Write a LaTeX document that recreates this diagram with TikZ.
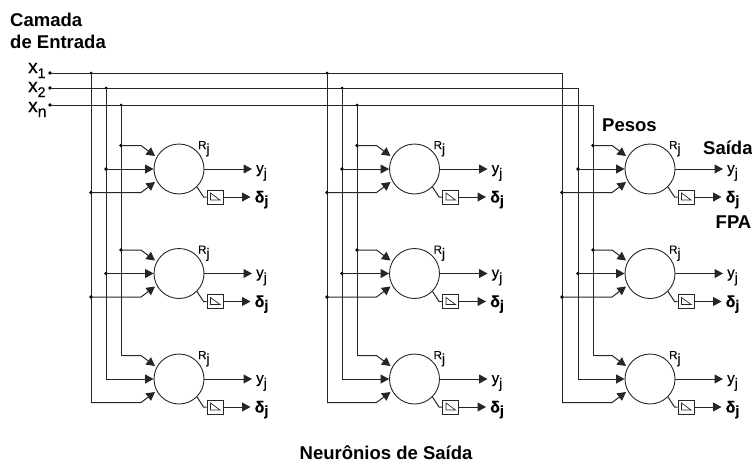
\documentclass[tikz,border=0pt]{standalone}
\usepackage{fontspec}
\setmainfont{Liberation Sans}
\newfontfamily\semib[FakeBold=0.35]{Liberation Sans}
\newfontfamily\heavy[FakeBold=0.5]{Liberation Sans Bold}
\usetikzlibrary{arrows.meta,calc}
\newcommand{\fsz}[1]{\fontsize{#1}{#1}\selectfont}
\newcommand{\sublab}[4]{{\fsz{#1}#2\raisebox{-#4pt}{\fsz{#3}j}}}
\tikzset{
  wire/.style={line width=1pt,draw=black!85},
  arr/.style={wire,-{Triangle[length=8.5pt,width=9pt]}},
  neuron/.style={circle,draw=black!85,line width=0.9pt,minimum size=50pt,inner sep=0pt},
  fpabox/.style={rectangle,draw=black!85,line width=0.9pt,minimum width=16pt,minimum height=14pt,inner sep=0pt},
  title/.style={font=\fontsize{18.5}{22}\selectfont\bfseries,inner sep=0pt,anchor=base west},
  lbl/.style={inner sep=0pt,anchor=base west,font=\semib},
  dot/.style={circle,fill=black,inner sep=0pt,minimum size=3.8pt},
}
\begin{document}
\begin{tikzpicture}[x=1pt,y=-1pt]
\useasboundingbox (0,0) rectangle (752,463);
% titles
\node[title] (cam) at (10,26) {Camada};
\node[title] (ent) at (10,48) {de Entrada};
\node[title] (pes) at (602,131.5) {Pesos};
\node[title] (sai) at (703,154.5) {Saída};
\node[title] (fpa) at (715.5,228) {FPA};
\node[title] (neu) at (299.5,459) {Neurônios de Saída};
% input labels
\node[lbl] (lx1) at (28,73) {\fsz{19}x\raisebox{-5pt}{\fsz{14}1}};
\node[lbl] (lx2) at (28,92) {\fsz{19}x\raisebox{-5pt}{\fsz{14}2}};
\node[lbl] (lxn) at (28,112) {\fsz{19}x\raisebox{-5pt}{\fsz{16}n}};
\node[dot] (d1) at (50,73) {};
\node[dot] (d2) at (50,88) {};
\node[dot] (d3) at (50,105) {};
% buses
\coordinate (b1end) at (562,73);
\coordinate (b2end) at (578,88);
\coordinate (b3end) at (593,105);
\draw[wire] (d1.center) -- (b1end);
\draw[wire] (d2.center) -- (b2end);
\draw[wire] (d3.center) -- (b3end);
% blocks
\foreach \b/\xa/\xb/\xc/\cx in {1/91/106/121/179, 2/327/342/357/414.5, 3/562/578/593/650}{
  \coordinate (va\b) at (\xa,73);
  \coordinate (vb\b) at (\xb,88);
  \coordinate (vc\b) at (\xc,105);
  \ifnum\b<3
    \node[dot,minimum size=3pt] at (va\b) {};
    \node[dot,minimum size=3pt] at (vb\b) {};
    \node[dot,minimum size=3pt] at (vc\b) {};
  \fi
  \coordinate (ea\b) at (\xa,402.5);
  \coordinate (eb\b) at (\xb,379);
  \coordinate (ec\b) at (\xc,355.5);
  \draw[wire] (va\b) -- (ea\b);
  \draw[wire] (vb\b) -- (eb\b);
  \draw[wire] (vc\b) -- (ec\b);
  \foreach \r/\cy in {1/169, 2/273.5, 3/379}{
    \node[neuron] (n\b\r) at (\cx,\cy) {};
    \node[lbl] (r\b\r) at (\cx+19,\cy-20) {\sublab{11.5}{R}{14}{4.5}};
    % inputs
    \coordinate (ia) at (\xc,\cy-23.5);
    \coordinate (ib) at (\xb,\cy);
    \coordinate (ic) at (\xa,\cy+23.5);
    \ifnum\r<3
      \node[dot] at (ia) {};
      \node[dot] at (ib) {};
      \node[dot] at (ic) {};
    \fi
    \draw[arr] (ia) -- (\cx-38,\cy-23.5) -- ($(n\b\r.center)+(-24,-13)$);
    \draw[arr] (ib) -- (n\b\r.west);
    \draw[arr] (ic) -- (\cx-38,\cy+23.5) -- ($(n\b\r.center)+(-24,13)$);
    % outputs
    \node[lbl] (y\b\r) at (\cx+77,\cy+4) {\sublab{15}{y}{14}{5}};
    \node[lbl,font=\heavy] (de\b\r) at (\cx+75.5,\cy+33.5) {\sublab{16}{δ}{14}{3}};
    \draw[arr] (n\b\r.east) -- ($(n\b\r.center)+(73,0)$);
    \node[fpabox] (f\b\r) at (\cx+36,\cy+28) {};
    \draw[arr] (f\b\r.east) -- ($(f\b\r.center)+(35.5,0)$);
    \draw[wire] (n\b\r.-45) -- ($(f\b\r.west)+(-3,0)$) -- (f\b\r.west);
    % ramp glyph inside the box
    \draw[line width=0.7pt,draw=black!85] ($(f\b\r.center)+(-4.5,-4)$) -- ($(f\b\r.center)+(-4.5,3)$) -- ($(f\b\r.center)+(5,3)$) -- cycle;
  }
}
\end{tikzpicture}
\end{document}
